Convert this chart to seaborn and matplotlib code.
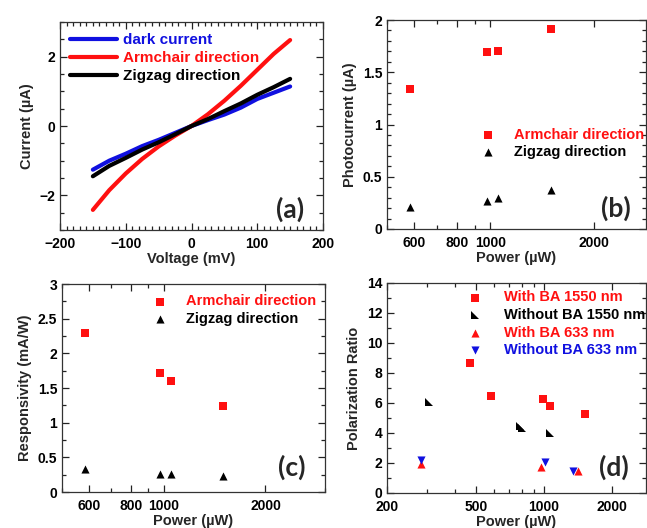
import numpy as np
import pandas as pd
import matplotlib
matplotlib.use('Agg')
import matplotlib.pyplot as plt
import seaborn as sns
from matplotlib.ticker import MultipleLocator, FixedLocator, NullFormatter

sns.set_style('ticks')
plt.rcParams['font.family'] = ['Liberation Sans', 'DejaVu Sans']
plt.rcParams['font.weight'] = 'bold'
plt.rcParams['axes.labelweight'] = 'bold'

# (a) I-V curves
voltage = [-150, -125, -100, -75, -50, -25, 0, 25, 50, 75, 100, 125, 150]
dark_current = [-1.26, -1.00, -0.80, -0.58, -0.40, -0.20, 0.0, 0.17, 0.33, 0.53, 0.78, 0.96, 1.14]
armchair_iv = [-2.42, -1.85, -1.37, -0.95, -0.59, -0.28, 0.0, 0.34, 0.73, 1.16, 1.62, 2.08, 2.48]
zigzag_iv = [-1.45, -1.15, -0.92, -0.68, -0.47, -0.24, 0.0, 0.20, 0.43, 0.65, 0.90, 1.12, 1.36]

# (b), (c) power dependence
power = [583, 977, 1050, 1500]
photo_arm = [1.34, 1.69, 1.70, 1.91]
photo_zig = [0.21, 0.27, 0.30, 0.37]
resp_arm = [2.30, 1.71, 1.60, 1.24]
resp_zig = [0.33, 0.26, 0.26, 0.23]

# (d) polarization ratio
p_ba1550 = [469, 582, 985, 1057, 1527]
r_ba1550 = [8.7, 6.5, 6.3, 5.8, 5.25]
p_noba1550 = [306, 780, 800, 1062]
r_noba1550 = [6.1, 4.5, 4.35, 4.0]
p_ba633 = [283, 970, 1410]
r_ba633 = [1.95, 1.75, 1.45]
p_noba633 = [283, 1010, 1350]
r_noba633 = [2.2, 2.1, 1.5]

W, H = 647, 528


def box(l, r, t, b):
    return [l / W, 1 - b / H, (r - l) / W, (b - t) / H]


fig = plt.figure(figsize=(W / 100, H / 100), dpi=100)
ax_a = fig.add_axes(box(60, 323, 22, 230))
ax_b = fig.add_axes(box(387, 646, 20, 229))
ax_c = fig.add_axes(box(62, 325, 284, 492))
ax_d = fig.add_axes(box(387, 646, 283, 493))

tri = [(-1, 1), (-1, -1), (1, -1)]


def style(ax):
    ax.tick_params(which='both', direction='in', top=True, right=True,
                   labelsize=10, width=0.9, colors='#222222', labelcolor='black')
    ax.tick_params(which='major', length=5)
    ax.tick_params(which='minor', length=3)
    ax.tick_params(axis='x', which='major', pad=5)
    for s in ax.spines.values():
        s.set_linewidth(0.9)
        s.set_color('#333333')


def legend(ax, x, y, hl, pad, colors, fs=10.5):
    leg = ax.legend(loc='upper left', bbox_to_anchor=(x, y), frameon=False,
                    borderpad=0, borderaxespad=0, handlelength=hl,
                    handletextpad=pad, labelspacing=0.25, fontsize=fs)
    for t, c in zip(leg.get_texts(), colors):
        t.set_color(c)
    return leg


def panel(ax, text, x, y):
    ax.text(x, y, text, transform=ax.transAxes, fontsize=19, fontweight='bold',
            family='Lato', ha='center', va='center')


# (a)
iv = pd.DataFrame({'V': voltage, 'dark': dark_current, 'arm': armchair_iv, 'zig': zigzag_iv})
sns.lineplot(data=iv, x='V', y='dark', color='#1010e0', lw=3, ax=ax_a, label='dark current')
sns.lineplot(data=iv, x='V', y='arm', color='#ff1010', lw=3, ax=ax_a, label='Armchair direction')
sns.lineplot(data=iv, x='V', y='zig', color='black', lw=3, ax=ax_a, label='Zigzag direction')
ax_a.set_xlim(-200, 200)
ax_a.set_ylim(-3, 3)
ax_a.set_xticks([-200, -100, 0, 100, 200])
ax_a.set_yticks([-2, 0, 2])
ax_a.xaxis.set_minor_locator(MultipleLocator(10))
ax_a.yaxis.set_minor_locator(MultipleLocator(0.5))
ax_a.set_xlabel('Voltage (mV)', fontsize=10.5, labelpad=1)
ax_a.set_ylabel('Current (µA)', fontsize=10.5, labelpad=4)
style(ax_a)
legend(ax_a, 0.038, 0.945, 3.1, 0.35, ['#1010e0', '#ff1010', 'black'], fs=11)
panel(ax_a, '(a)', 0.875, 0.1)


def power_axis(ax, lo, hi, major, minor):
    ax.set_xscale('log')
    ax.set_xlim(lo, hi)
    ax.xaxis.set_major_locator(FixedLocator(major))
    ax.set_xticklabels([str(m) for m in major])
    ax.xaxis.set_minor_locator(FixedLocator(minor))
    ax.xaxis.set_minor_formatter(NullFormatter())


# (b)
sns.scatterplot(x=power, y=photo_arm, marker='s', color='#ff1010', s=32, linewidth=0,
                ax=ax_b, label='Armchair direction')
sns.scatterplot(x=power, y=photo_zig, marker='^', color='black', s=34, linewidth=0,
                ax=ax_b, label='Zigzag direction')
power_axis(ax_b, 500, 2840, [600, 800, 1000, 2000], [500, 700, 900])
ax_b.set_ylim(0, 2)
ax_b.set_yticks([0, 0.5, 1, 1.5, 2])
ax_b.set_yticklabels(['0', '0.5', '1', '1.5', '2'])
ax_b.yaxis.set_minor_locator(MultipleLocator(0.1))
ax_b.set_xlabel('Power (µW)', fontsize=10.5, labelpad=1)
ax_b.set_ylabel('Photocurrent (µA)', fontsize=10.5, labelpad=4)
style(ax_b)
legend(ax_b, 0.36, 0.485, 1.0, 1.3, ['#ff1010', 'black'])
panel(ax_b, '(b)', 0.885, 0.1)

# (c)
sns.scatterplot(x=power, y=resp_arm, marker='s', color='#ff1010', s=32, linewidth=0,
                ax=ax_c, label='Armchair direction')
sns.scatterplot(x=power, y=resp_zig, marker='^', color='black', s=34, linewidth=0,
                ax=ax_c, label='Zigzag direction')
power_axis(ax_c, 500, 3000, [600, 800, 1000, 2000], [500, 700, 900, 3000])
ax_c.set_ylim(0, 3)
ax_c.set_yticks([0, 0.5, 1, 1.5, 2, 2.5, 3])
ax_c.set_yticklabels(['0', '0.5', '1', '1.5', '2', '2.5', '3'])
ax_c.yaxis.set_minor_locator(MultipleLocator(0.25))
ax_c.set_xlabel('Power (µW)', fontsize=10.5, labelpad=1)
ax_c.set_ylabel('Responsivity (mA/W)', fontsize=10.5, labelpad=4)
style(ax_c)
legend(ax_c, 0.345, 0.95, 1.0, 1.3, ['#ff1010', 'black'])
panel(ax_c, '(c)', 0.875, 0.12)

# (d)
sns.scatterplot(x=p_ba1550, y=r_ba1550, marker='s', color='#ff1010', s=32, linewidth=0,
                ax=ax_d, label='With BA 1550 nm')
sns.scatterplot(x=p_noba1550, y=r_noba1550, marker=tri, color='black', s=26, linewidth=0,
                ax=ax_d, label='Without BA 1550 nm')
sns.scatterplot(x=p_ba633, y=r_ba633, marker='^', color='#ff1010', s=34, linewidth=0,
                ax=ax_d, label='With BA 633 nm')
sns.scatterplot(x=p_noba633, y=r_noba633, marker='v', color='#1010e0', s=34, linewidth=0,
                ax=ax_d, label='Without BA 633 nm')
power_axis(ax_d, 200, 2840, [200, 500, 1000, 2000], [300, 400, 600, 700, 800, 900])
ax_d.set_ylim(0, 14)
ax_d.set_yticks(range(0, 15, 2))
ax_d.yaxis.set_minor_locator(MultipleLocator(1))
ax_d.set_xlabel('Power (µW)', fontsize=10.5, labelpad=1)
ax_d.set_ylabel('Polarization Ratio', fontsize=10.5, labelpad=4)
style(ax_d)
legend(ax_d, 0.31, 0.965, 1.0, 1.5, ['#ff1010', 'black', '#ff1010', '#1010e0'])
panel(ax_d, '(d)', 0.875, 0.12)

fig.savefig('out.png', dpi=100)
